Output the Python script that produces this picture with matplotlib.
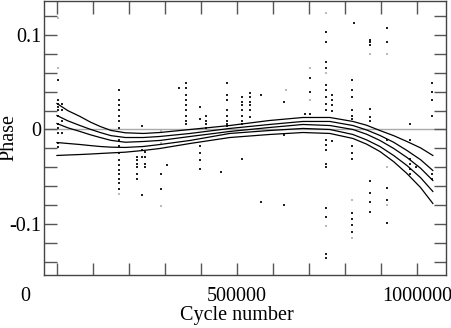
import matplotlib
matplotlib.use("Agg")
import matplotlib.pyplot as plt
import matplotlib.transforms as mtransforms
from matplotlib.ticker import MultipleLocator, FixedLocator

# fitted curves
curve_cycle = [0, 30000, 64000, 92000, 120000, 150000, 190000, 240000, 286000,
               370000, 480000, 590000, 683000, 758000, 822000, 860000, 897000,
               935000, 972000, 1010000, 1044000]
curve_1 = [0.0275, 0.020, 0.0138, 0.0080, 0.0032, -0.0010, -0.0035, -0.0042, -0.0032,
           0.0, 0.0042, 0.0095, 0.0127, 0.0127, 0.0085, 0.0045, -0.0011, -0.0065,
           -0.0127, -0.0195, -0.0275]
curve_2 = [0.0148, 0.0092, 0.0042, 0.0003, -0.0032, -0.0065, -0.0085, -0.0085, -0.0074,
           -0.0042, 0.0011, 0.0053, 0.0085, 0.0085, 0.0042, -0.0005, -0.0063, -0.0135,
           -0.0222, -0.032, -0.0434]
curve_3 = [0.0063, 0.0018, -0.0021, -0.0055, -0.0085, -0.0115, -0.0135, -0.0127, -0.0116,
           -0.0074, -0.0021, 0.0021, 0.0053, 0.0042, 0.0, -0.005, -0.0116, -0.020,
           -0.0296, -0.041, -0.054]
curve_4 = [-0.0138, -0.0148, -0.0159, -0.017, -0.018, -0.0187, -0.019, -0.018, -0.0159,
           -0.0116, -0.0042, -0.0011, 0.0011, 0.0, -0.0053, -0.011, -0.018, -0.0275,
           -0.0381, -0.051, -0.0656]
curve_5 = [-0.0275, -0.027, -0.0265, -0.026, -0.0254, -0.0248, -0.024, -0.0222, -0.0201,
           -0.0148, -0.0085, -0.0053, -0.0032, -0.0042, -0.0095, -0.0155, -0.0233, -0.034,
           -0.0466, -0.0615, -0.0783]

# observed phases, grouped by cycle number
dot_cycles = [3000, 14000, 172000, 222000, 236000, 245000, 290000, 306000,
              340000, 358000, 396000, 415000, 455000, 473000, 515000, 536000,
              567000, 630000, 690000, 702000, 747000, 763000, 820000, 826000,
              870000, 918000, 980000, 997000, 1042000]
dot_phases = [
    [0.0529, 0.0307, 0.0275, 0.0233, 0.0201, 0.0148, 0.0063, 0.0011, -0.0042, -0.0148, -0.019],
    [0.0275, 0.0201, 0.0095, -0.0042],
    [0.0413, 0.0307, 0.0254, 0.0201, 0.0148, 0.0095, 0.0021, -0.0106, -0.018, -0.0254,
     -0.0328, -0.0381, -0.0434, -0.0476, -0.0529, -0.0571, -0.0635],
    [-0.0296, -0.0328, -0.036, -0.0402, -0.0466, -0.0519],
    [0.0042, -0.0212, -0.0286, -0.0698],
    [-0.0233, -0.0286, -0.036, -0.0402],
    [-0.0476, -0.0635],
    [-0.0381],
    [0.0444],
    [0.0497, 0.0444, 0.036, 0.0307, 0.0254, 0.0201, 0.0148, 0.0095, 0.0063],
    [0.0233, 0.0116, -0.018, -0.0254, -0.0328, -0.0413],
    [0.0148, 0.0095, 0.0063, 0.0021],
    [-0.0455],
    [0.0487, 0.036, 0.0307, 0.0201, 0.0148, 0.0095, 0.0063, 0.0042],
    [0.0339, 0.0296, 0.0254, 0.0201, 0.0148, 0.0095, 0.0063, -0.0317],
    [0.0381, 0.0339, 0.0296, 0.0254, 0.0201, 0.0127],
    [0.037, -0.0772],
    [0.0296, -0.0063, -0.0804],
    [0.0169],
    [0.054, 0.0392, 0.0169],
    [0.1037, 0.0921, 0.0709, 0.0656, 0.0466, 0.0413, 0.0339, 0.0275, 0.0201, -0.0106,
     -0.0159, -0.0212, -0.036, -0.0392, -0.0836, -0.0921, -0.1323, -0.1365],
    [0.036, 0.0307, 0.0254, 0.02, -0.012],
    [0.0519, 0.0413, 0.0348, 0.0201, 0.0148, 0.0116, -0.018, -0.0254, -0.0317,
     -0.0889, -0.0952, -0.1016, -0.109],
    [0.1122],
    [0.0952, 0.0921, 0.0899, 0.0222, 0.0127, 0.0095, -0.055, -0.0677, -0.0772, -0.0868],
    [0.1069, 0.0921, -0.0116, -0.0624, -0.0741, -0.0995],
    [0.0063, -0.0106, -0.0317, -0.036, -0.0413, -0.0466],
    [-0.0392],
    [0.0487, 0.0392, 0.0307, 0.0148, -0.0476, -0.0519],
]

# fainter points
faint_cycle = [3000, 3000, 172000, 290000, 290000, 290000, 635000, 702000, 702000,
               747000, 747000, 747000, 820000, 820000, 870000, 918000, 918000, 918000]
faint_phase = [0.1175, 0.0646, -0.0688, -0.0815, -0.0021, -0.0148, 0.0413, 0.0307, 0.0656,
               0.1228, 0.06, -0.1026, -0.0741, -0.1153, 0.0804, 0.0804, -0.04, -0.08]

xs, ys = [], []
for c, ph in zip(dot_cycles, dot_phases):
    xs += [c] * len(ph)
    ys += ph

plt.rcParams['font.family'] = ['Liberation Serif', 'DejaVu Serif']

fig = plt.figure(figsize=(4.52, 3.28), dpi=100)
ax = fig.add_axes([0.0973, 0.1616, 0.8894, 0.8354])

ax.axhline(0, color='#aaaaaa', lw=1.0, zorder=1)
ax.scatter(faint_cycle, faint_phase, s=1.5, marker='s', color='#bbbbbb', lw=0, zorder=2)
ax.scatter(xs, ys, s=2.0, marker='s', color='#222222', lw=0, zorder=3)
for cv in [curve_1, curve_2, curve_3, curve_4, curve_5]:
    ax.plot(curve_cycle, cv, color='black', lw=0.9, zorder=4)

ax.set_xlim(-36000, 1080500)
ax.set_ylim(-0.154, 0.136)

ax.xaxis.set_major_locator(FixedLocator([0, 500000, 1000000]))
ax.xaxis.set_minor_locator(MultipleLocator(100000))
ax.set_xticklabels(['0', '500000', '1000000'])
ax.yaxis.set_major_locator(FixedLocator([-0.1, 0, 0.1]))
ax.yaxis.set_minor_locator(MultipleLocator(0.02))
ax.set_yticklabels(['-0.1', '0', '0.1'])

ax.tick_params(which='both', direction='in', length=9, width=1.0, color='#555555',
               top=True, right=True, labelsize=14.5)
ax.tick_params(axis='x', which='both', pad=9)
ax.tick_params(axis='y', which='both', pad=2)
for s in ax.spines.values():
    s.set_color('#444444')
    s.set_linewidth(1.0)

# the "0" label sits left of the frame in the original
lab0 = ax.get_xticklabels()[0]
lab0.set_transform(lab0.get_transform() + mtransforms.ScaledTranslation(-0.32, 0, fig.dpi_scale_trans))

ax.set_xlabel('Cycle number', fontsize=14.5)
ax.xaxis.set_label_coords(0.48, -0.112)
ax.set_ylabel('Phase', fontsize=14.5)
ax.yaxis.set_label_coords(-0.063, 0.5)

fig.savefig('out.png', dpi=100)
